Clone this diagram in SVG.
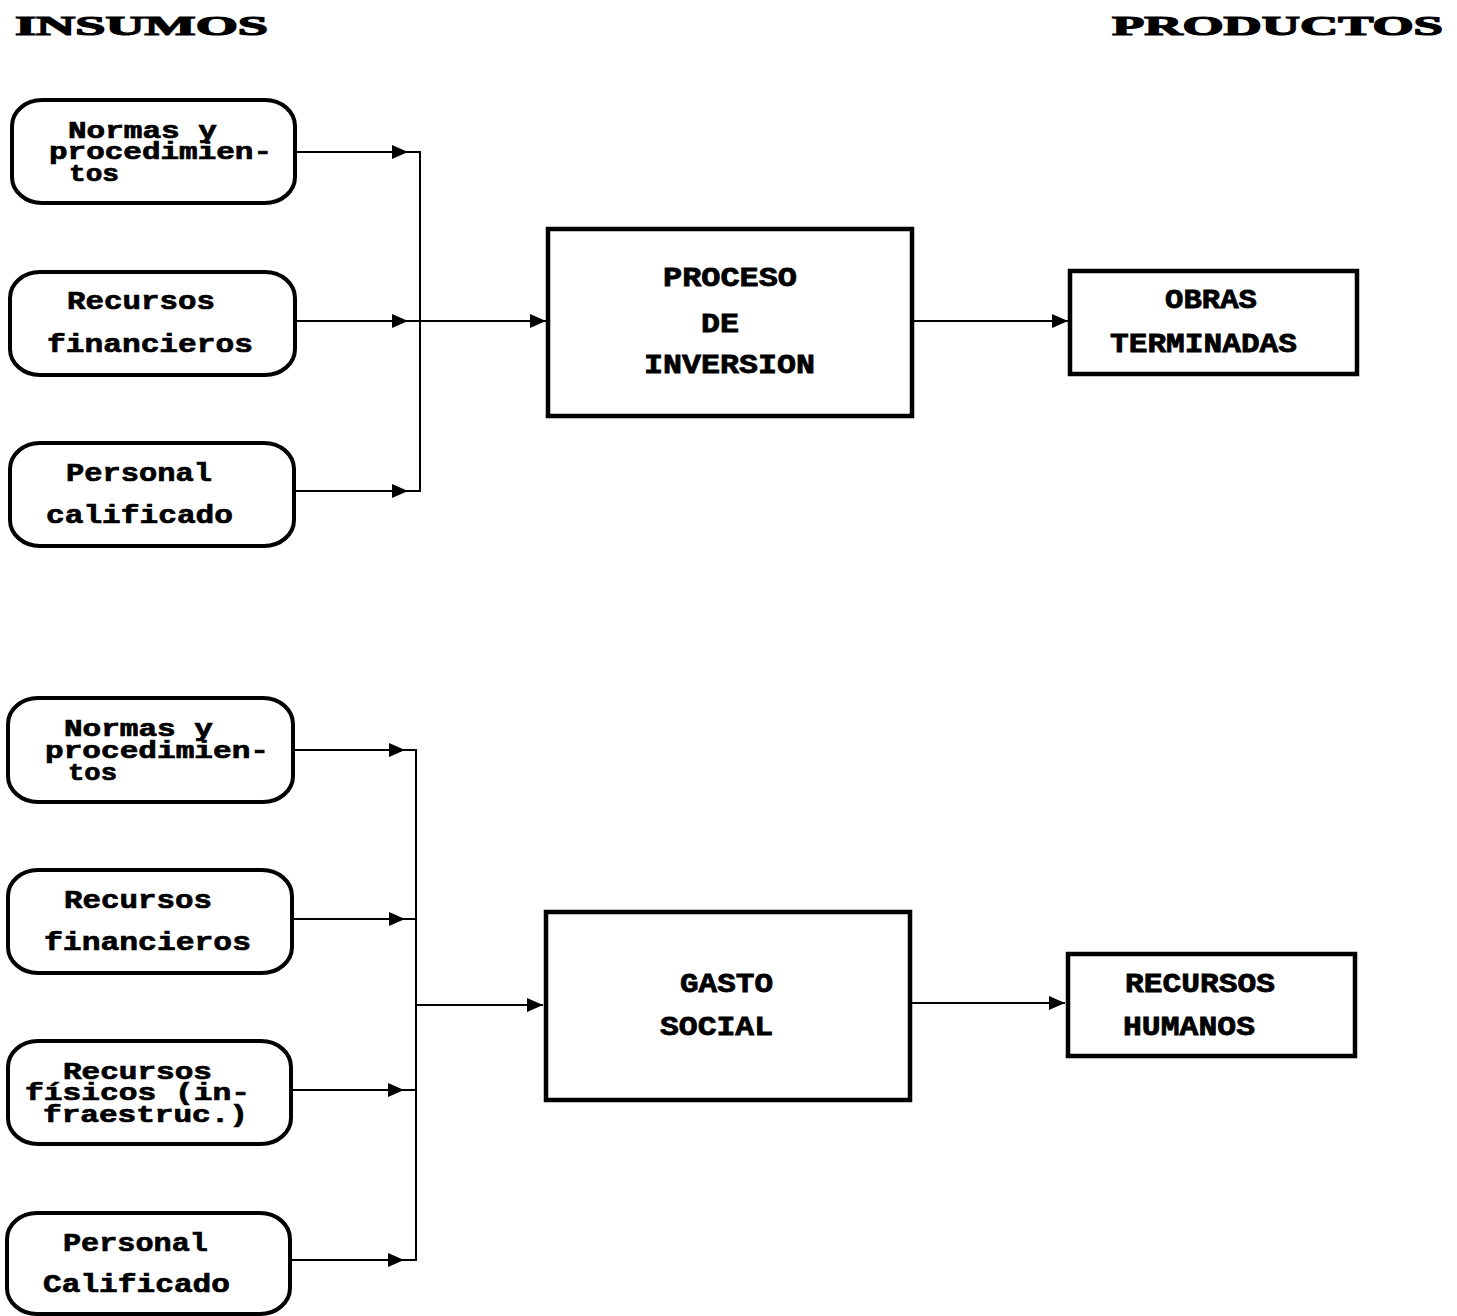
<svg xmlns="http://www.w3.org/2000/svg" width="1457" height="1316" viewBox="0 0 1457 1316">
<style>
.bg{fill:#fff}
.rb{fill:#fff;stroke:#000;stroke-width:4}
.bx{fill:#fff;stroke:#000;stroke-width:4.5}
.ln{fill:none;stroke:#000;stroke-width:2}
.t{font-family:"Liberation Mono","DejaVu Sans Mono",monospace;font-weight:bold;font-size:26px;fill:#000;stroke:#000;stroke-width:0.7}
.s{font-size:23px}
.b{font-family:"Liberation Mono","DejaVu Sans Mono",monospace;font-weight:bold;font-size:28px;fill:#000;stroke:#000;stroke-width:0.8}
.h{font-family:"Liberation Serif","DejaVu Serif",serif;font-weight:bold;font-size:27px;fill:#000;stroke:#000;stroke-width:1.2}
</style>
<defs>
<path id="ah" d="M0,-7 L16,0 L0,7 Z" fill="#000"/>
<marker id="arr" markerWidth="16" markerHeight="14" refX="16" refY="7" orient="auto" markerUnits="userSpaceOnUse">
<path d="M0,0 L16,7 L0,14 Z" fill="#000"/>
</marker>
</defs>
<rect class="bg" x="0" y="0" width="1457" height="1316"/>

<g id="headers">
<text class="h" x="15" y="35" textLength="253" lengthAdjust="spacingAndGlyphs">INSUMOS</text>
<text class="h" x="1112" y="35" textLength="331" lengthAdjust="spacingAndGlyphs">PRODUCTOS</text>
</g>

<g id="connectors">
<line class="ln" x1="296" y1="152" x2="421" y2="152"/>
<line class="ln" x1="295" y1="321" x2="420" y2="321"/>
<line class="ln" x1="294" y1="491" x2="421" y2="491"/>
<line class="ln" x1="420" y1="151" x2="420" y2="492"/>
<line class="ln" x1="420" y1="321" x2="546" y2="321" marker-end="url(#arr)"/>
<line class="ln" x1="912" y1="321" x2="1068" y2="321" marker-end="url(#arr)"/>
<use href="#ah" x="392" y="152"/>
<use href="#ah" x="392" y="321"/>
<use href="#ah" x="392" y="491"/>

<line class="ln" x1="293" y1="750" x2="417" y2="750"/>
<line class="ln" x1="292" y1="919" x2="417" y2="919"/>
<line class="ln" x1="291" y1="1090" x2="417" y2="1090"/>
<line class="ln" x1="290" y1="1260" x2="417" y2="1260"/>
<line class="ln" x1="416" y1="749" x2="416" y2="1261"/>
<line class="ln" x1="416" y1="1005" x2="543" y2="1005" marker-end="url(#arr)"/>
<line class="ln" x1="910" y1="1003" x2="1065" y2="1003" marker-end="url(#arr)"/>
<use href="#ah" x="389" y="750"/>
<use href="#ah" x="389" y="919"/>
<use href="#ah" x="388" y="1090"/>
<use href="#ah" x="388" y="1260"/>
</g>

<g id="in1">
<rect class="rb" x="12" y="100" width="283" height="103" rx="30" ry="26"/>
<text class="t s" x="68" y="138" textLength="149" lengthAdjust="spacingAndGlyphs">Normas y</text>
<text class="t s" x="49" y="159" textLength="223" lengthAdjust="spacingAndGlyphs">procedimien-</text>
<text class="t s" x="69" y="181" textLength="50" lengthAdjust="spacingAndGlyphs">tos</text>
</g>
<g id="in2">
<rect class="rb" x="10" y="272" width="285" height="103" rx="30" ry="26"/>
<text class="t" x="67" y="309" textLength="148" lengthAdjust="spacingAndGlyphs">Recursos</text>
<text class="t" x="47" y="352" textLength="206" lengthAdjust="spacingAndGlyphs">financieros</text>
</g>
<g id="in3">
<rect class="rb" x="10" y="443" width="284" height="103" rx="30" ry="26"/>
<text class="t" x="66" y="481" textLength="146" lengthAdjust="spacingAndGlyphs">Personal</text>
<text class="t" x="46" y="523" textLength="187" lengthAdjust="spacingAndGlyphs">calificado</text>
</g>

<g id="proceso">
<rect class="bx" x="548" y="229" width="364" height="187"/>
<text class="b" x="663" y="286" textLength="134" lengthAdjust="spacingAndGlyphs">PROCESO</text>
<text class="b" x="701" y="332" textLength="38" lengthAdjust="spacingAndGlyphs">DE</text>
<text class="b" x="644" y="373" textLength="171" lengthAdjust="spacingAndGlyphs">INVERSION</text>
</g>

<g id="obras">
<rect class="bx" x="1070" y="271" width="287" height="103"/>
<text class="b" x="1165" y="308" textLength="92" lengthAdjust="spacingAndGlyphs">OBRAS</text>
<text class="b" x="1110" y="352" textLength="187" lengthAdjust="spacingAndGlyphs">TERMINADAS</text>
</g>

<g id="in4">
<rect class="rb" x="8" y="698" width="285" height="104" rx="30" ry="26"/>
<text class="t s" x="64" y="736" textLength="149" lengthAdjust="spacingAndGlyphs">Normas y</text>
<text class="t s" x="45" y="758" textLength="224" lengthAdjust="spacingAndGlyphs">procedimien-</text>
<text class="t s" x="68" y="780" textLength="49" lengthAdjust="spacingAndGlyphs">tos</text>
</g>
<g id="in5">
<rect class="rb" x="8" y="870" width="284" height="103" rx="30" ry="26"/>
<text class="t" x="64" y="908" textLength="148" lengthAdjust="spacingAndGlyphs">Recursos</text>
<text class="t" x="44" y="950" textLength="207" lengthAdjust="spacingAndGlyphs">financieros</text>
</g>
<g id="in6">
<rect class="rb" x="8" y="1041" width="283" height="103" rx="30" ry="26"/>
<text class="t s" x="63" y="1079" textLength="149" lengthAdjust="spacingAndGlyphs">Recursos</text>
<text class="t s" x="25" y="1100" textLength="225" lengthAdjust="spacingAndGlyphs">físicos (in-</text>
<text class="t s" x="43" y="1122" textLength="205" lengthAdjust="spacingAndGlyphs">fraestruc.)</text>
</g>
<g id="in7">
<rect class="rb" x="7" y="1213" width="283" height="101" rx="30" ry="26"/>
<text class="t" x="63" y="1251" textLength="145" lengthAdjust="spacingAndGlyphs">Personal</text>
<text class="t" x="43" y="1292" textLength="187" lengthAdjust="spacingAndGlyphs">Calificado</text>
</g>

<g id="gasto">
<rect class="bx" x="546" y="912" width="364" height="188"/>
<text class="b" x="680" y="992" textLength="93" lengthAdjust="spacingAndGlyphs">GASTO</text>
<text class="b" x="660" y="1035" textLength="113" lengthAdjust="spacingAndGlyphs">SOCIAL</text>
</g>

<g id="rrhh">
<rect class="bx" x="1068" y="954" width="287" height="102"/>
<text class="b" x="1125" y="992" textLength="150" lengthAdjust="spacingAndGlyphs">RECURSOS</text>
<text class="b" x="1123" y="1035" textLength="132" lengthAdjust="spacingAndGlyphs">HUMANOS</text>
</g>
</svg>
